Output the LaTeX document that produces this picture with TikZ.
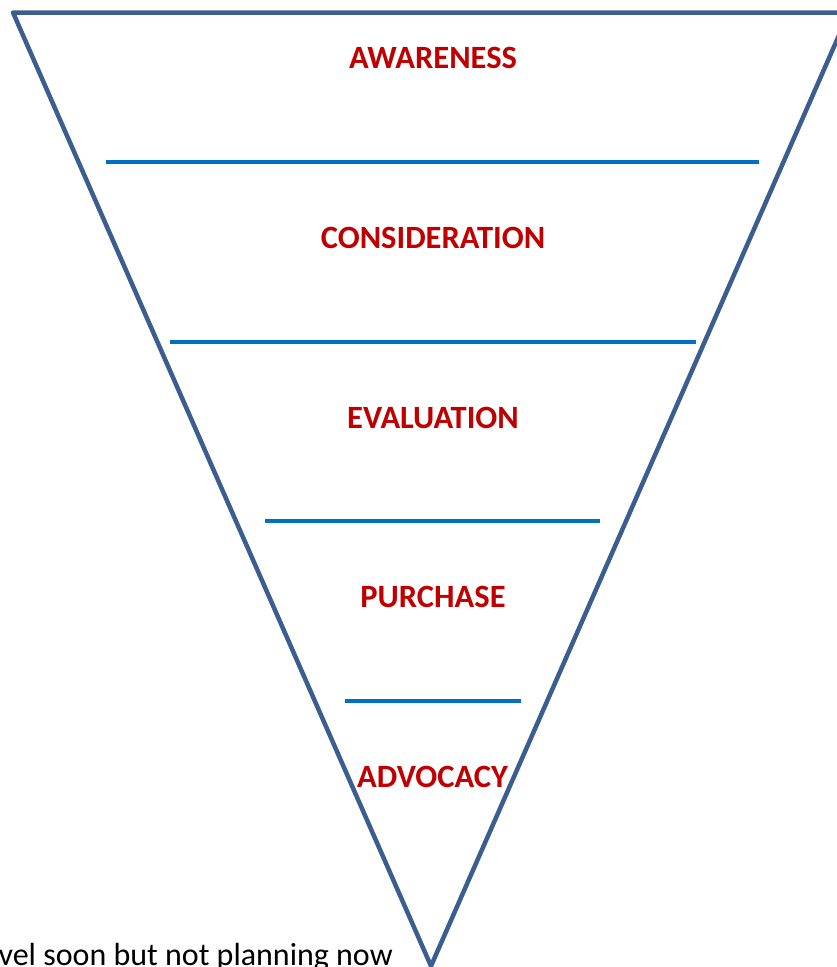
\documentclass[tikz,border=0pt]{standalone}
\usepackage{fontspec}
\setmainfont{Carlito}
\begin{document}
\begin{tikzpicture}[x=1pt,y=-1pt,
  funnel/.style={draw=funnelblue,line width=4.5pt,line join=round},
  divider/.style={draw=dividerblue,line width=3.2pt},
  stage/.style={anchor=base,text=stagered,inner sep=0pt,
    font=\fontsize{32.5}{38}\selectfont\bfseries},
  note/.style={anchor=base east,text=black,inner sep=0pt,
    font=\fontsize{32}{38}\selectfont}]
\definecolor{funnelblue}{HTML}{3B5E8F}
\definecolor{dividerblue}{HTML}{0070C0}
\definecolor{stagered}{HTML}{C00000}
\useasboundingbox (0,0) rectangle (837,967);
\clip (0,0) rectangle (837,967);
\fill[white] (0,0) rectangle (837,967);

% funnel outline
\coordinate (tl) at (13,12.5);
\coordinate (tr) at (849,12.5);
\coordinate (apex) at (431,966);
\draw[funnel] (tl) -- (tr) -- (apex) -- cycle;

% stage dividers
\coordinate (d1a) at (106,162); \coordinate (d1b) at (759,162);
\coordinate (d2a) at (170,342); \coordinate (d2b) at (696,342);
\coordinate (d3a) at (265,521); \coordinate (d3b) at (600,521);
\coordinate (d4a) at (345,701); \coordinate (d4b) at (521,701);
\draw[divider] (d1a) -- (d1b);
\draw[divider] (d2a) -- (d2b);
\draw[divider] (d3a) -- (d3b);
\draw[divider] (d4a) -- (d4b);

% stage labels
\node[stage] (awareness) at (433,68) {AWARENESS};
\node[stage] (consideration) at (433,248) {CONSIDERATION};
\node[stage] (evaluation) at (433,428) {EVALUATION};
\node[stage] (purchase) at (433,607) {PURCHASE};
\node[stage] (advocacy) at (432.5,787) {ADVOCACY};

% trailing note
\node[note] (note) at (393,965) {vel soon but not planning now};
\end{tikzpicture}
\end{document}
